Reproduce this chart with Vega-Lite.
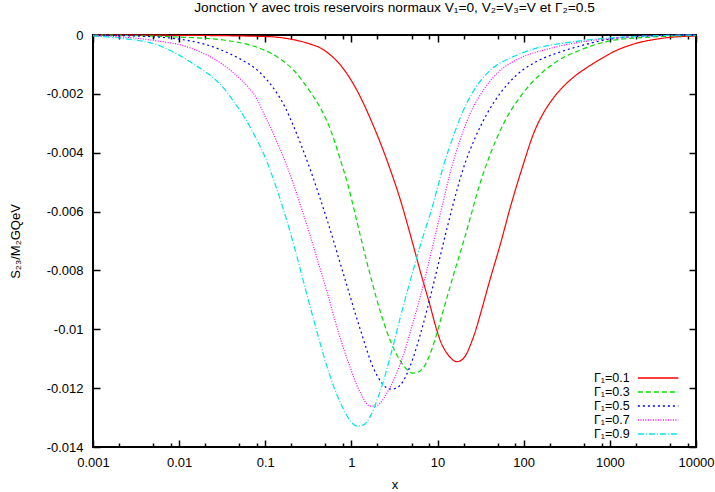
{
  "$schema": "https://vega.github.io/schema/vega-lite/v6.json",
  "width": 603,
  "height": 412,
  "autosize": {"type": "none"},
  "padding": {"left": 93, "top": 35, "right": 19, "bottom": 45},
  "title": {"text": "Jonction Y avec trois reservoirs normaux V₁=0, V₂=V₃=V et Γ₂=0.5", "fontSize": 13.7, "font": "Liberation Sans", "fontWeight": "normal", "color": "#000", "offset": 14, "anchor": "middle", "frame": "group"},
  "config": {
    "view": {"stroke": "#000", "strokeWidth": 2},
    "font": "Liberation Sans",
    "axis": {"labelFont": "Liberation Sans", "labelFontSize": 13, "labelColor": "#000", "tickColor": "#000", "tickWidth": 1.5, "domain": false, "grid": false, "titleFont": "Liberation Sans", "titleFontSize": 13, "titleFontWeight": "normal", "titleColor": "#000", "labelOverlap": false, "labelFlush": false, "labelBound": false}
  },
  "data": {"values": [
    {"s": "Γ₁=0.1", "x": 0.001, "y": 0},
    {"s": "Γ₁=0.1", "x": 0.01, "y": -0.00001},
    {"s": "Γ₁=0.1", "x": 0.1, "y": -0.00005},
    {"s": "Γ₁=0.1", "x": 0.196, "y": -0.00014},
    {"s": "Γ₁=0.1", "x": 0.334, "y": -0.00031},
    {"s": "Γ₁=0.1", "x": 0.437, "y": -0.00044},
    {"s": "Γ₁=0.1", "x": 0.571, "y": -0.00068},
    {"s": "Γ₁=0.1", "x": 0.745, "y": -0.00102},
    {"s": "Γ₁=0.1", "x": 0.974, "y": -0.0015},
    {"s": "Γ₁=0.1", "x": 1.272, "y": -0.00211},
    {"s": "Γ₁=0.1", "x": 1.662, "y": -0.00285},
    {"s": "Γ₁=0.1", "x": 2.171, "y": -0.00367},
    {"s": "Γ₁=0.1", "x": 2.837, "y": -0.00459},
    {"s": "Γ₁=0.1", "x": 3.706, "y": -0.00561},
    {"s": "Γ₁=0.1", "x": 4.841, "y": -0.0068},
    {"s": "Γ₁=0.1", "x": 6.324, "y": -0.00805},
    {"s": "Γ₁=0.1", "x": 8.264, "y": -0.00924},
    {"s": "Γ₁=0.1", "x": 9.701, "y": -0.00999},
    {"s": "Γ₁=0.1", "x": 10.8, "y": -0.0104},
    {"s": "Γ₁=0.1", "x": 12.34, "y": -0.01074},
    {"s": "Γ₁=0.1", "x": 14.1, "y": -0.01096},
    {"s": "Γ₁=0.1", "x": 16.56, "y": -0.0111},
    {"s": "Γ₁=0.1", "x": 18.9, "y": -0.01105},
    {"s": "Γ₁=0.1", "x": 21.63, "y": -0.01084},
    {"s": "Γ₁=0.1", "x": 24.07, "y": -0.01053},
    {"s": "Γ₁=0.1", "x": 27.52, "y": -0.01006},
    {"s": "Γ₁=0.1", "x": 31.45, "y": -0.00948},
    {"s": "Γ₁=0.1", "x": 41.09, "y": -0.00826},
    {"s": "Γ₁=0.1", "x": 53.67, "y": -0.0071},
    {"s": "Γ₁=0.1", "x": 70.13, "y": -0.00584},
    {"s": "Γ₁=0.1", "x": 100, "y": -0.00435},
    {"s": "Γ₁=0.1", "x": 129.7, "y": -0.00336},
    {"s": "Γ₁=0.1", "x": 169.4, "y": -0.00265},
    {"s": "Γ₁=0.1", "x": 204.3, "y": -0.00228},
    {"s": "Γ₁=0.1", "x": 246.3, "y": -0.00197},
    {"s": "Γ₁=0.1", "x": 305.0, "y": -0.00168},
    {"s": "Γ₁=0.1", "x": 398.6, "y": -0.00138},
    {"s": "Γ₁=0.1", "x": 520.7, "y": -0.00114},
    {"s": "Γ₁=0.1", "x": 777.7, "y": -0.00082},
    {"s": "Γ₁=0.1", "x": 1161, "y": -0.00054},
    {"s": "Γ₁=0.1", "x": 1878, "y": -0.00031},
    {"s": "Γ₁=0.1", "x": 3866, "y": -0.00012},
    {"s": "Γ₁=0.1", "x": 10000, "y": -0.00003},

    {"s": "Γ₁=0.3", "x": 0.001, "y": 0},
    {"s": "Γ₁=0.3", "x": 0.01, "y": -0.00007},
    {"s": "Γ₁=0.3", "x": 0.0327, "y": -0.00017},
    {"s": "Γ₁=0.3", "x": 0.0878, "y": -0.00046},
    {"s": "Γ₁=0.3", "x": 0.1148, "y": -0.00061},
    {"s": "Γ₁=0.3", "x": 0.15, "y": -0.00082},
    {"s": "Γ₁=0.3", "x": 0.2122, "y": -0.00119},
    {"s": "Γ₁=0.3", "x": 0.3342, "y": -0.00194},
    {"s": "Γ₁=0.3", "x": 0.4365, "y": -0.00248},
    {"s": "Γ₁=0.3", "x": 0.5264, "y": -0.00296},
    {"s": "Γ₁=0.3", "x": 0.652, "y": -0.0037},
    {"s": "Γ₁=0.3", "x": 0.7451, "y": -0.00425},
    {"s": "Γ₁=0.3", "x": 0.8986, "y": -0.00503},
    {"s": "Γ₁=0.3", "x": 1.055, "y": -0.00584},
    {"s": "Γ₁=0.3", "x": 1.272, "y": -0.00683},
    {"s": "Γ₁=0.3", "x": 1.662, "y": -0.00819},
    {"s": "Γ₁=0.3", "x": 2.171, "y": -0.00941},
    {"s": "Γ₁=0.3", "x": 2.837, "y": -0.0104},
    {"s": "Γ₁=0.3", "x": 3.706, "y": -0.01108},
    {"s": "Γ₁=0.3", "x": 4.35, "y": -0.01135},
    {"s": "Γ₁=0.3", "x": 5.107, "y": -0.01149},
    {"s": "Γ₁=0.3", "x": 5.996, "y": -0.01145},
    {"s": "Γ₁=0.3", "x": 7.041, "y": -0.01125},
    {"s": "Γ₁=0.3", "x": 8.264, "y": -0.01081},
    {"s": "Γ₁=0.3", "x": 9.445, "y": -0.0103},
    {"s": "Γ₁=0.3", "x": 11.7, "y": -0.00934},
    {"s": "Γ₁=0.3", "x": 15.28, "y": -0.00816},
    {"s": "Γ₁=0.3", "x": 21.06, "y": -0.0068},
    {"s": "Γ₁=0.3", "x": 31.45, "y": -0.005},
    {"s": "Γ₁=0.3", "x": 53.67, "y": -0.00323},
    {"s": "Γ₁=0.3", "x": 100, "y": -0.00194},
    {"s": "Γ₁=0.3", "x": 156.4, "y": -0.00133},
    {"s": "Γ₁=0.3", "x": 246.3, "y": -0.00088},
    {"s": "Γ₁=0.3", "x": 455.5, "y": -0.00051},
    {"s": "Γ₁=0.3", "x": 1000, "y": -0.0002},
    {"s": "Γ₁=0.3", "x": 2959, "y": -0.00007},
    {"s": "Γ₁=0.3", "x": 10000, "y": -0.00002},

    {"s": "Γ₁=0.5", "x": 0.001, "y": 0},
    {"s": "Γ₁=0.5", "x": 0.0056, "y": -0.00007},
    {"s": "Γ₁=0.5", "x": 0.01, "y": -0.00014},
    {"s": "Γ₁=0.5", "x": 0.0213, "y": -0.00034},
    {"s": "Γ₁=0.5", "x": 0.0327, "y": -0.00054},
    {"s": "Γ₁=0.5", "x": 0.0514, "y": -0.00082},
    {"s": "Γ₁=0.5", "x": 0.0672, "y": -0.00102},
    {"s": "Γ₁=0.5", "x": 0.0878, "y": -0.00129},
    {"s": "Γ₁=0.5", "x": 0.1148, "y": -0.00167},
    {"s": "Γ₁=0.5", "x": 0.1384, "y": -0.002},
    {"s": "Γ₁=0.5", "x": 0.1714, "y": -0.00248},
    {"s": "Γ₁=0.5", "x": 0.2122, "y": -0.00309},
    {"s": "Γ₁=0.5", "x": 0.3342, "y": -0.00459},
    {"s": "Γ₁=0.5", "x": 0.5264, "y": -0.00632},
    {"s": "Γ₁=0.5", "x": 0.8074, "y": -0.00812},
    {"s": "Γ₁=0.5", "x": 1.272, "y": -0.01002},
    {"s": "Γ₁=0.5", "x": 1.8, "y": -0.01132},
    {"s": "Γ₁=0.5", "x": 2.171, "y": -0.01176},
    {"s": "Γ₁=0.5", "x": 2.481, "y": -0.01196},
    {"s": "Γ₁=0.5", "x": 2.837, "y": -0.01203},
    {"s": "Γ₁=0.5", "x": 3.243, "y": -0.01201},
    {"s": "Γ₁=0.5", "x": 3.706, "y": -0.01189},
    {"s": "Γ₁=0.5", "x": 4.35, "y": -0.01155},
    {"s": "Γ₁=0.5", "x": 5.246, "y": -0.01094},
    {"s": "Γ₁=0.5", "x": 6.324, "y": -0.01016},
    {"s": "Γ₁=0.5", "x": 7.627, "y": -0.00928},
    {"s": "Γ₁=0.5", "x": 9.195, "y": -0.00833},
    {"s": "Γ₁=0.5", "x": 11.09, "y": -0.00734},
    {"s": "Γ₁=0.5", "x": 14.88, "y": -0.00584},
    {"s": "Γ₁=0.5", "x": 19.97, "y": -0.00452},
    {"s": "Γ₁=0.5", "x": 27.52, "y": -0.00347},
    {"s": "Γ₁=0.5", "x": 37.92, "y": -0.00265},
    {"s": "Γ₁=0.5", "x": 53.67, "y": -0.00197},
    {"s": "Γ₁=0.5", "x": 75.99, "y": -0.00146},
    {"s": "Γ₁=0.5", "x": 136.8, "y": -0.00092},
    {"s": "Γ₁=0.5", "x": 246.3, "y": -0.00061},
    {"s": "Γ₁=0.5", "x": 455.5, "y": -0.00037},
    {"s": "Γ₁=0.5", "x": 1000, "y": -0.00014},
    {"s": "Γ₁=0.5", "x": 2959, "y": -0.00003},
    {"s": "Γ₁=0.5", "x": 10000, "y": 0},

    {"s": "Γ₁=0.7", "x": 0.001, "y": -0.00002},
    {"s": "Γ₁=0.7", "x": 0.00464, "y": -0.00017},
    {"s": "Γ₁=0.7", "x": 0.0135, "y": -0.00044},
    {"s": "Γ₁=0.7", "x": 0.0327, "y": -0.00102},
    {"s": "Γ₁=0.7", "x": 0.0514, "y": -0.0015},
    {"s": "Γ₁=0.7", "x": 0.0811, "y": -0.00221},
    {"s": "Γ₁=0.7", "x": 0.1004, "y": -0.00279},
    {"s": "Γ₁=0.7", "x": 0.1148, "y": -0.00313},
    {"s": "Γ₁=0.7", "x": 0.1384, "y": -0.00367},
    {"s": "Γ₁=0.7", "x": 0.1714, "y": -0.00432},
    {"s": "Γ₁=0.7", "x": 0.2122, "y": -0.00506},
    {"s": "Γ₁=0.7", "x": 0.2559, "y": -0.00578},
    {"s": "Γ₁=0.7", "x": 0.3252, "y": -0.00673},
    {"s": "Γ₁=0.7", "x": 0.4139, "y": -0.00775},
    {"s": "Γ₁=0.7", "x": 0.5264, "y": -0.00877},
    {"s": "Γ₁=0.7", "x": 0.652, "y": -0.00975},
    {"s": "Γ₁=0.7", "x": 0.8074, "y": -0.01064},
    {"s": "Γ₁=0.7", "x": 0.9737, "y": -0.01132},
    {"s": "Γ₁=0.7", "x": 1.113, "y": -0.01179},
    {"s": "Γ₁=0.7", "x": 1.272, "y": -0.01216},
    {"s": "Γ₁=0.7", "x": 1.454, "y": -0.01247},
    {"s": "Γ₁=0.7", "x": 1.662, "y": -0.01261},
    {"s": "Γ₁=0.7", "x": 1.899, "y": -0.01261},
    {"s": "Γ₁=0.7", "x": 2.171, "y": -0.0125},
    {"s": "Γ₁=0.7", "x": 2.618, "y": -0.01213},
    {"s": "Γ₁=0.7", "x": 3.243, "y": -0.01159},
    {"s": "Γ₁=0.7", "x": 4.015, "y": -0.01087},
    {"s": "Γ₁=0.7", "x": 4.972, "y": -0.00996},
    {"s": "Γ₁=0.7", "x": 6.324, "y": -0.00887},
    {"s": "Γ₁=0.7", "x": 7.627, "y": -0.00792},
    {"s": "Γ₁=0.7", "x": 8.951, "y": -0.00707},
    {"s": "Γ₁=0.7", "x": 11.09, "y": -0.00591},
    {"s": "Γ₁=0.7", "x": 14.1, "y": -0.00466},
    {"s": "Γ₁=0.7", "x": 18.43, "y": -0.00353},
    {"s": "Γ₁=0.7", "x": 24.07, "y": -0.00265},
    {"s": "Γ₁=0.7", "x": 34.08, "y": -0.00187},
    {"s": "Γ₁=0.7", "x": 49.54, "y": -0.00129},
    {"s": "Γ₁=0.7", "x": 91.6, "y": -0.00078},
    {"s": "Γ₁=0.7", "x": 188.6, "y": -0.00048},
    {"s": "Γ₁=0.7", "x": 455.5, "y": -0.00024},
    {"s": "Γ₁=0.7", "x": 1000, "y": -0.00012},
    {"s": "Γ₁=0.7", "x": 2959, "y": -0.00003},
    {"s": "Γ₁=0.7", "x": 10000, "y": 0},

    {"s": "Γ₁=0.9", "x": 0.001, "y": -0.00003},
    {"s": "Γ₁=0.9", "x": 0.00226, "y": -0.00012},
    {"s": "Γ₁=0.9", "x": 0.0056, "y": -0.00034},
    {"s": "Γ₁=0.9", "x": 0.0135, "y": -0.00092},
    {"s": "Γ₁=0.9", "x": 0.0327, "y": -0.0018},
    {"s": "Γ₁=0.9", "x": 0.045, "y": -0.00234},
    {"s": "Γ₁=0.9", "x": 0.0588, "y": -0.00285},
    {"s": "Γ₁=0.9", "x": 0.0769, "y": -0.00347},
    {"s": "Γ₁=0.9", "x": 0.1004, "y": -0.00418},
    {"s": "Γ₁=0.9", "x": 0.1312, "y": -0.0051},
    {"s": "Γ₁=0.9", "x": 0.1714, "y": -0.00615},
    {"s": "Γ₁=0.9", "x": 0.2239, "y": -0.00734},
    {"s": "Γ₁=0.9", "x": 0.2924, "y": -0.00863},
    {"s": "Γ₁=0.9", "x": 0.3819, "y": -0.00989},
    {"s": "Γ₁=0.9", "x": 0.5264, "y": -0.01132},
    {"s": "Γ₁=0.9", "x": 0.652, "y": -0.0121},
    {"s": "Γ₁=0.9", "x": 0.8074, "y": -0.01271},
    {"s": "Γ₁=0.9", "x": 0.9737, "y": -0.01312},
    {"s": "Γ₁=0.9", "x": 1.174, "y": -0.01329},
    {"s": "Γ₁=0.9", "x": 1.378, "y": -0.01325},
    {"s": "Γ₁=0.9", "x": 1.662, "y": -0.01295},
    {"s": "Γ₁=0.9", "x": 2.004, "y": -0.01237},
    {"s": "Γ₁=0.9", "x": 2.352, "y": -0.01176},
    {"s": "Γ₁=0.9", "x": 2.837, "y": -0.01091},
    {"s": "Γ₁=0.9", "x": 3.706, "y": -0.00958},
    {"s": "Γ₁=0.9", "x": 4.841, "y": -0.00833},
    {"s": "Γ₁=0.9", "x": 6.324, "y": -0.00714},
    {"s": "Γ₁=0.9", "x": 7.233, "y": -0.00659},
    {"s": "Γ₁=0.9", "x": 8.488, "y": -0.00595},
    {"s": "Γ₁=0.9", "x": 9.963, "y": -0.0052},
    {"s": "Γ₁=0.9", "x": 11.7, "y": -0.00445},
    {"s": "Γ₁=0.9", "x": 15.28, "y": -0.00343},
    {"s": "Γ₁=0.9", "x": 19.97, "y": -0.00255},
    {"s": "Γ₁=0.9", "x": 27.52, "y": -0.0018},
    {"s": "Γ₁=0.9", "x": 41.09, "y": -0.00119},
    {"s": "Γ₁=0.9", "x": 70.13, "y": -0.00078},
    {"s": "Γ₁=0.9", "x": 119.7, "y": -0.00051},
    {"s": "Γ₁=0.9", "x": 348.7, "y": -0.00024},
    {"s": "Γ₁=0.9", "x": 1000, "y": -0.0001},
    {"s": "Γ₁=0.9", "x": 2959, "y": -0.00003},
    {"s": "Γ₁=0.9", "x": 10000, "y": 0}
  ]},
  "resolve": {"axis": {"x": "independent", "y": "independent"}},
  "layer": [
    {
      "mark": {"type": "line", "strokeWidth": 1.2, "interpolate": "monotone"},
      "encoding": {
        "x": {"field": "x", "type": "quantitative", "scale": {"type": "log", "domain": [0.001, 10000], "nice": false},
              "axis": {"orient": "bottom", "values": [0.001, 0.01, 0.1, 1, 10, 100, 1000, 10000], "labelExpr": "'' + datum.value", "tickSize": -7, "labelPadding": 16, "title": "x", "titlePadding": 9}},
        "y": {"field": "y", "type": "quantitative", "scale": {"domain": [-0.014, 0], "nice": false, "zero": false},
              "axis": {"orient": "left", "values": [0, -0.002, -0.004, -0.006, -0.008, -0.01, -0.012, -0.014], "labelExpr": "'' + datum.value", "tickSize": -7, "labelPadding": 17, "title": "S₂₃/M₂GQeV", "titlePadding": 24}},
        "color": {"field": "s", "type": "nominal",
                  "scale": {"domain": ["Γ₁=0.1", "Γ₁=0.3", "Γ₁=0.5", "Γ₁=0.7", "Γ₁=0.9"], "range": ["#ff0000", "#00dd00", "#0000ff", "#ff00ff", "#00e5e5"]},
                  "legend": {"title": null, "orient": "none", "legendX": 558.1, "legendY": 336, "symbolType": "M-3.3,0H3.3", "symbolSize": 150, "symbolStrokeWidth": 1.5, "labelOffset": -35.4, "labelAlign": "right", "labelFontSize": 12.5, "labelFont": "Liberation Sans", "labelColor": "#000", "rowPadding": 0, "padding": 0}},
        "strokeDash": {"field": "s", "type": "nominal",
                  "scale": {"domain": ["Γ₁=0.1", "Γ₁=0.3", "Γ₁=0.5", "Γ₁=0.7", "Γ₁=0.9"], "range": [[1, 0], [5, 3], [2, 3], [1, 1.5], [6, 2, 1, 2]]},
                  "legend": {"title": null, "orient": "none", "legendX": 558.1, "legendY": 336, "symbolType": "M-3.3,0H3.3", "symbolSize": 150, "symbolStrokeWidth": 1.5, "labelOffset": -35.4, "labelAlign": "right", "labelFontSize": 12.5, "labelFont": "Liberation Sans", "labelColor": "#000", "rowPadding": 0, "padding": 0}}
      }
    },
    {
      "mark": {"type": "line", "opacity": 0},
      "encoding": {
        "x": {"field": "x", "type": "quantitative", "scale": {"type": "log", "domain": [0.001, 10000], "nice": false},
              "axis": {"orient": "bottom", "values": [0.002, 0.005, 0.008, 0.02, 0.05, 0.08, 0.2, 0.5, 0.8, 2, 5, 8, 20, 50, 80, 200, 500, 800, 2000, 5000, 8000], "labels": false, "tickSize": -4, "title": null}},
        "y": {"field": "y", "type": "quantitative", "scale": {"domain": [-0.014, 0], "nice": false, "zero": false},
              "axis": {"orient": "right", "values": [0, -0.002, -0.004, -0.006, -0.008, -0.01, -0.012, -0.014], "labels": false, "tickSize": -7, "title": null}},
        "detail": {"field": "s"}
      }
    },
    {
      "mark": {"type": "line", "opacity": 0},
      "encoding": {
        "x": {"field": "x", "type": "quantitative", "scale": {"type": "log", "domain": [0.001, 10000], "nice": false},
              "axis": {"orient": "top", "values": [0.001, 0.01, 0.1, 1, 10, 100, 1000, 10000], "labels": false, "tickSize": -7, "title": null}},
        "y": {"field": "y", "type": "quantitative", "scale": {"domain": [-0.014, 0], "nice": false, "zero": false}, "axis": null},
        "detail": {"field": "s"}
      }
    },
    {
      "mark": {"type": "line", "opacity": 0},
      "encoding": {
        "x": {"field": "x", "type": "quantitative", "scale": {"type": "log", "domain": [0.001, 10000], "nice": false},
              "axis": {"orient": "top", "values": [0.002, 0.005, 0.008, 0.02, 0.05, 0.08, 0.2, 0.5, 0.8, 2, 5, 8, 20, 50, 80, 200, 500, 800, 2000, 5000, 8000], "labels": false, "tickSize": -4, "title": null}},
        "y": {"field": "y", "type": "quantitative", "scale": {"domain": [-0.014, 0], "nice": false, "zero": false}, "axis": null},
        "detail": {"field": "s"}
      }
    }
  ]
}
